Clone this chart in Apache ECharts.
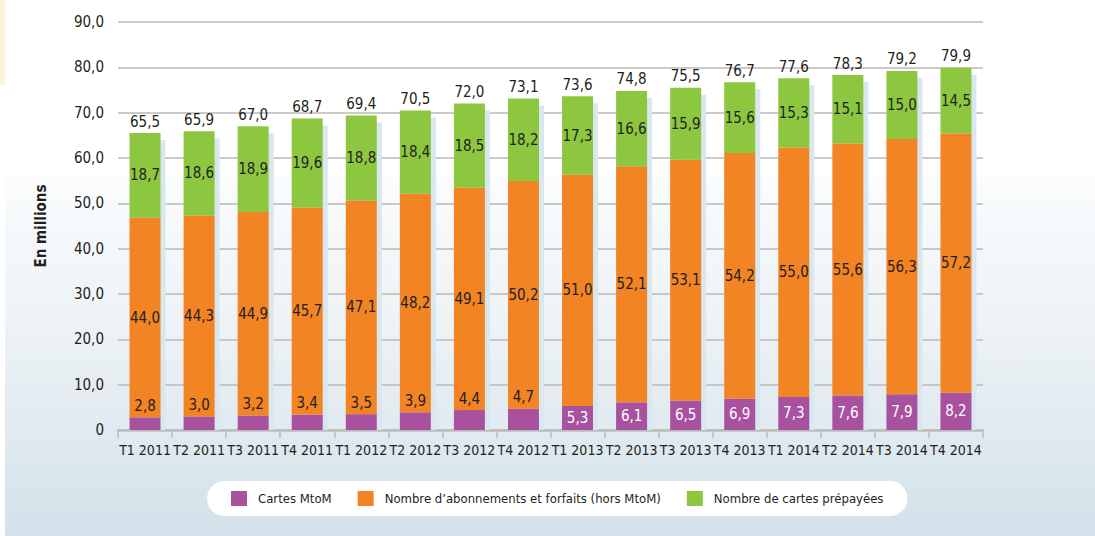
<!DOCTYPE html>
<html>
<head>
<meta charset="utf-8">
<script src="https://cdn.jsdelivr.net/npm/echarts@6/dist/echarts.min.js"></script>
<style>
  html, body { margin: 0; padding: 0; background: #fff; }
  #chart { width: 1095px; height: 536px; }
</style>
</head>
<body>
<div id="chart"></div>
<script>
// données (en millions)
var categories = ['T1 2011', 'T2 2011', 'T3 2011', 'T4 2011', 'T1 2012', 'T2 2012', 'T3 2012', 'T4 2012',
                  'T1 2013', 'T2 2013', 'T3 2013', 'T4 2013', 'T1 2014', 'T2 2014', 'T3 2014', 'T4 2014'];
var mtom = [2.8, 3.0, 3.2, 3.4, 3.5, 3.9, 4.4, 4.7, 5.3, 6.1, 6.5, 6.9, 7.3, 7.6, 7.9, 8.2];
var abonnements = [44.0, 44.3, 44.9, 45.7, 47.1, 48.2, 49.1, 50.2, 51.0, 52.1, 53.1, 54.2, 55.0, 55.6, 56.3, 57.2];
var prepayees = [18.7, 18.6, 18.9, 19.6, 18.8, 18.4, 18.5, 18.2, 17.3, 16.6, 15.9, 15.6, 15.3, 15.1, 15.0, 14.5];
var totals = [65.5, 65.9, 67.0, 68.7, 69.4, 70.5, 72.0, 73.1, 73.6, 74.8, 75.5, 76.7, 77.6, 78.3, 79.2, 79.9];

var seriesNames = ['Cartes MtoM', 'Nombre d\u2019abonnements et forfaits (hors MtoM)', 'Nombre de cartes prépayées'];
var colors = ['#a8529f', '#f28423', '#8dc63f'];

var FONT = '"DejaVu Sans Condensed", "Liberation Sans Narrow", sans-serif';
var TXT = '#231f20';
var BAR_W = 31;

function fmt(v) {
    return v.toFixed(1).replace('.', ',');
}

var myChart = echarts.init(document.getElementById('chart'), null, { renderer: 'svg' });

var option = {
    animation: false,
    textStyle: { fontFamily: FONT },
    graphic: [
        { type: 'rect', z: -10, shape: { x: 0, y: 0, width: 5, height: 85 }, style: { fill: '#fbf3dd' } },
        {
            type: 'rect', z: -10,
            shape: { x: 5, y: 177, width: 1090, height: 359 },
            style: {
                fill: new echarts.graphic.LinearGradient(0, 177, 0, 536, [
                    { offset: 0, color: '#fafcfd' },
                    { offset: 0.4, color: '#eef3f6' },
                    { offset: 1, color: '#d3e1ea' }
                ], true)
            }
        }
    ],
    legend: {
        data: seriesNames,
        left: 207,
        top: 481,
        backgroundColor: '#fff',
        borderRadius: 18,
        padding: [10, 24, 10, 24],
        itemGap: 26,
        itemWidth: 16,
        itemHeight: 15,
        icon: 'rect',
        textStyle: { fontFamily: FONT, fontSize: 13, color: TXT, padding: [0, 0, 0, 6] }
    },
    grid: {
        left: 118,
        right: 112,
        top: 22,
        bottom: 106
    },
    xAxis: {
        type: 'category',
        data: categories,
        axisLine: { lineStyle: { color: '#bcbcbc', width: 2.5 } },
        axisTick: { show: true, length: 8, lineStyle: { color: '#bcbcbc', width: 1.5 } },
        axisLabel: { interval: 0, margin: 13, fontFamily: FONT, fontSize: 14, color: TXT }
    },
    yAxis: {
        type: 'value',
        min: 0,
        max: 90,
        interval: 10,
        name: 'En millions',
        nameLocation: 'middle',
        nameGap: 70,
        nameTextStyle: { fontFamily: FONT, fontSize: 15, fontWeight: 'bold', color: TXT },
        axisLine: { show: false },
        axisTick: { show: false },
        axisLabel: {
            margin: 14,
            fontFamily: FONT,
            fontSize: 15,
            color: TXT,
            formatter: function (v) { return v === 0 ? '0' : fmt(v); }
        },
        splitLine: { lineStyle: { color: '#b8b8b8', width: 1.5 } }
    },
    series: [
        {
            // ombre derrière chaque barre + total au-dessus
            type: 'custom',
            z: 1,
            silent: true,
            data: totals.map(function (v, i) { return [i, v]; }),
            encode: { x: 0, y: 1 },
            renderItem: function (params, api) {
                var idx = api.value(0);
                var total = api.value(1);
                var top = api.coord([idx, total]);
                var base = api.coord([idx, 0]);
                return {
                    type: 'group',
                    children: [
                        {
                            type: 'rect',
                            shape: { x: top[0] - BAR_W / 2 + 5, y: top[1] + 7, width: BAR_W, height: base[1] - top[1] - 7 },
                            style: { fill: '#d8e7f0' }
                        },
                        {
                            type: 'text',
                            style: {
                                text: fmt(total),
                                x: top[0],
                                y: top[1] - 4,
                                align: 'center',
                                verticalAlign: 'bottom',
                                font: '15px ' + FONT,
                                fill: TXT
                            }
                        }
                    ]
                };
            }
        },
        {
            name: seriesNames[0],
            type: 'bar',
            stack: 'total',
            z: 2,
            barWidth: BAR_W,
            itemStyle: { color: colors[0] },
            data: mtom.map(function (v) {
                var inside = v >= 5;
                return {
                    value: v,
                    label: {
                        show: true,
                        position: inside ? 'inside' : 'top',
                        distance: 4,
                        color: inside ? '#fff' : TXT,
                        fontFamily: FONT,
                        fontSize: 15,
                        formatter: function (p) { return fmt(p.value); }
                    }
                };
            })
        },
        {
            name: seriesNames[1],
            type: 'bar',
            stack: 'total',
            z: 2,
            barWidth: BAR_W,
            itemStyle: { color: colors[1] },
            label: {
                show: true, position: 'inside', color: TXT, fontFamily: FONT, fontSize: 15,
                formatter: function (p) { return fmt(p.value); }
            },
            data: abonnements
        },
        {
            name: seriesNames[2],
            type: 'bar',
            stack: 'total',
            z: 2,
            barWidth: BAR_W,
            itemStyle: { color: colors[2] },
            label: {
                show: true, position: 'inside', color: TXT, fontFamily: FONT, fontSize: 15,
                formatter: function (p) { return fmt(p.value); }
            },
            data: prepayees
        }
    ]
};

myChart.setOption(option);
</script>
</body>
</html>
